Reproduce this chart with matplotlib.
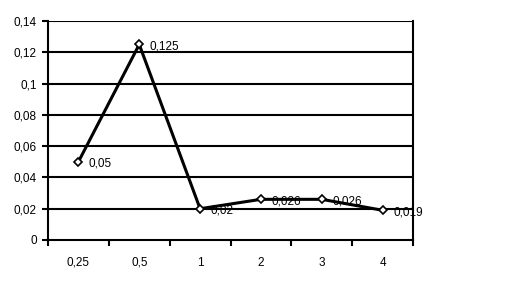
import numpy as np
import matplotlib
matplotlib.use('Agg')
import matplotlib.pyplot as plt

categories = ['0,25', '0,5', '1', '2', '3', '4']
values = [0.05, 0.125, 0.02, 0.026, 0.026, 0.019]
labels = ['0,05', '0,125', '0,02', '0,026', '0,026', '0,019']
yticks = [0, 0.02, 0.04, 0.06, 0.08, 0.1, 0.12, 0.14]
ylabels = ['0', '0,02', '0,04', '0,06', '0,08', '0,1', '0,12', '0,14']

plt.rcParams['font.family'] = ['Liberation Sans', 'DejaVu Sans']
plt.rcParams['font.size'] = 8.5

fig = plt.figure(figsize=(5.11, 2.87), dpi=100)
ax = fig.add_axes([48/511, 47/287, 365/511, 219/287])

x = np.arange(len(categories))
ax.set_xlim(-0.5, len(categories) - 0.5)
ax.set_ylim(0, 0.14)

for yv in yticks[1:]:
    ax.axhline(yv, color='black', lw=1.5, zorder=1)

ax.plot(x, values, color='black', lw=2.2, marker='D', ms=4,
        mfc='white', mec='black', mew=1.2, zorder=3)

for xi, v, lab in zip(x, values, labels):
    ax.annotate(lab, (xi, v), xytext=(7.5, -1.5), textcoords='offset points',
                va='center', ha='left', fontsize=8.5, zorder=4)

ax.set_yticks(yticks)
ax.set_yticklabels(ylabels)
ax.set_xticks(np.arange(len(categories) + 1) - 0.5)
ax.set_xticklabels([])
ax.set_xticks(x, minor=True)
ax.set_xticklabels(categories, minor=True)
ax.tick_params(axis='x', which='minor', length=0, pad=12)
ax.tick_params(axis='x', which='major', length=4, width=1.5, direction='out')
ax.tick_params(axis='y', length=4, width=1.5, direction='out', pad=4)

for s in ['left', 'bottom', 'right']:
    ax.spines[s].set_linewidth(1.5)
ax.spines['top'].set_visible(False)

fig.savefig('out.png', dpi=100)
